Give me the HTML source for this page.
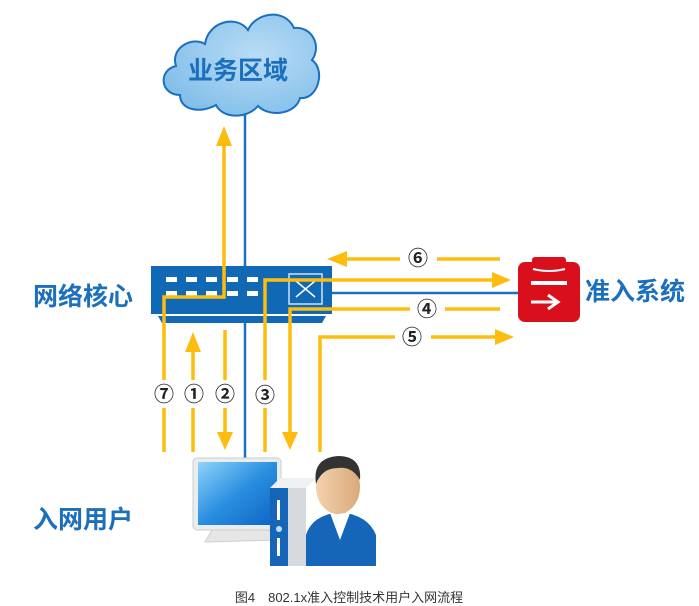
<!DOCTYPE html>
<html><head><meta charset="utf-8"><style>
body{margin:0;background:#fff;width:699px;height:606px;overflow:hidden}
svg{display:block}
.lbl{font-family:"Liberation Sans","Noto Sans CJK SC",sans-serif;font-weight:bold;fill:#1b6fbd;font-size:25px}
.num{font-family:"Liberation Sans","Noto Sans CJK SC",sans-serif;font-size:20px;font-weight:bold;fill:#222}
</style></head><body>
<svg width="699" height="606" viewBox="0 0 699 606" xmlns="http://www.w3.org/2000/svg">
<defs>
<radialGradient id="cg" cx="0.6" cy="0.4" r="0.7"><stop offset="0" stop-color="#b9dcf5"/><stop offset="1" stop-color="#7fbde9"/></radialGradient>
<linearGradient id="mon" x1="0" y1="0" x2="1" y2="1"><stop offset="0" stop-color="#8fd3fb"/><stop offset="0.5" stop-color="#2a8fe0"/><stop offset="1" stop-color="#0c63c2"/></linearGradient>
<linearGradient id="face" x1="0" y1="0" x2="1" y2="0"><stop offset="0" stop-color="#f4d2ae"/><stop offset="1" stop-color="#d9a979"/></linearGradient>
</defs>
<g fill="url(#cg)" stroke="#1a70c0" stroke-width="2">
<path d="M180,95 C160,95 158,70 176,66 C170,48 192,36 205,44 C208,22 236,14 248,30 C256,12 285,8 294,28 C312,26 322,46 312,60 C326,70 318,100 300,98 C296,114 270,118 258,106 C246,120 222,118 216,105 C200,114 180,110 180,95 Z"/>
</g>
<text x="188" y="79" class="lbl">业务区域</text>
<g stroke="#1a70c0" stroke-width="2.5" fill="none">
<line x1="245" y1="115" x2="245" y2="267"/>
<line x1="245" y1="322" x2="245" y2="458"/>
<line x1="332" y1="293" x2="520" y2="293"/>
</g>
<rect x="151" y="266" width="181" height="48" fill="#1168b5"/>
<polygon points="158,316 326,316 322,323 162,323" fill="#1168b5"/>
<g fill="#fff">
<rect x="166" y="277" width="11" height="5"/><rect x="186" y="277" width="11" height="5"/><rect x="206" y="277" width="11" height="5"/><rect x="227" y="277" width="11" height="5"/><rect x="247" y="277" width="11" height="5"/>
<rect x="166" y="291" width="11" height="5"/><rect x="186" y="291" width="11" height="5"/><rect x="206" y="291" width="11" height="5"/><rect x="227" y="291" width="11" height="5"/><rect x="247" y="291" width="11" height="5"/>
</g>
<rect x="289" y="274" width="33" height="30" fill="none" stroke="#cfe3f5" stroke-width="1.5"/>
<path d="M296,281 L315,297 M315,281 L296,297" stroke="#fff" stroke-width="1.5"/>
<g stroke="#fdbd0f" stroke-width="3.5" fill="none">
<polyline points="224,142 224,297 164,297 164,380"/>
<line x1="164" y1="408" x2="164" y2="452"/>
<line x1="193" y1="345" x2="193" y2="380"/><line x1="193" y1="408" x2="193" y2="452"/>
<line x1="225" y1="330" x2="225" y2="380"/><line x1="225" y1="408" x2="225" y2="436"/>
<polyline points="265,380 265,280 496,280"/><line x1="265" y1="408" x2="265" y2="452"/>
<line x1="500" y1="259" x2="437" y2="259"/><line x1="400" y1="259" x2="345" y2="259"/>
<line x1="500" y1="309" x2="445" y2="309"/><polyline points="410,309 290,309 290,436"/>
<polyline points="320,452 320,337 395,337"/><line x1="431" y1="337" x2="498" y2="337"/>
</g>
<g fill="#fdbd0f">
<polygon points="224,126 216,146 232,146"/>
<polygon points="193,332 185,352 201,352"/>
<polygon points="225,450 217,432 233,432"/>
<polygon points="511,280 492,272 492,288"/>
<polygon points="327,259 347,251 347,267"/>
<polygon points="290,450 282,432 298,432"/>
<polygon points="514,337 495,329 495,345"/>
</g>
<g class="num" text-anchor="middle">
<text x="164" y="401">⑦</text><text x="194" y="401">①</text><text x="225" y="401">②</text><text x="265" y="402">③</text>
<text x="418" y="265">⑥</text><text x="427" y="316">④</text><text x="412" y="344">⑤</text>
</g>
<rect x="518" y="262" width="62" height="60" rx="7" fill="#d9101b"/>
<rect x="532" y="257" width="34" height="10" rx="3" fill="#d9101b"/>
<path d="M533,269 Q549,273 565,269" stroke="#fff" stroke-width="2" fill="none"/>
<rect x="531" y="281" width="36" height="4" fill="#fff"/>
<path d="M531,302 L556,302 M548,295 L558,302 L548,309" stroke="#fff" stroke-width="3" fill="none"/>
<text x="585" y="300" class="lbl">准入系统</text>
<text x="33" y="305" class="lbl">网络核心</text>
<text x="33" y="528" class="lbl">入网用户</text>
<path d="M215,525 L262,525 L280,540 L205,542 Z" fill="#e6e6e6" stroke="#cfcfcf"/>
<rect x="193" y="458" width="88" height="72" rx="4" fill="#e9edf0" stroke="#c9ced2"/>
<rect x="198" y="462" width="79" height="63" fill="url(#mon)"/>
<rect x="270" y="488" width="36" height="78" fill="#d7dadd"/>
<polygon points="270,488 280,478 316,478 306,488" fill="#eef0f1"/>
<rect x="270" y="488" width="18" height="78" fill="#1565b9"/>
<rect x="277" y="500" width="3" height="20" fill="#fff"/>
<circle cx="279" cy="529" r="3" fill="#bfe0ff"/>
<rect x="277" y="538" width="3" height="18" fill="#fff"/>
<path d="M306,566 L306,535 Q312,515 340,512 Q368,515 376,535 L376,566 Z" fill="#1565b9"/>
<path d="M330,513 L340,540 L350,513 Z" fill="#fff"/>
<ellipse cx="338" cy="487" rx="22" ry="27" fill="url(#face)"/>
<path d="M316,484 Q312,458 338,456 Q362,456 360,480 Q352,466 338,468 Q322,468 316,484 Z" fill="#333"/>
<text x="349" y="602" text-anchor="middle" style="font-family:'Liberation Sans','Noto Sans CJK SC',sans-serif;font-size:13px;fill:#333">图4　802.1x准入控制技术用户入网流程</text>
</svg>
</body></html>
